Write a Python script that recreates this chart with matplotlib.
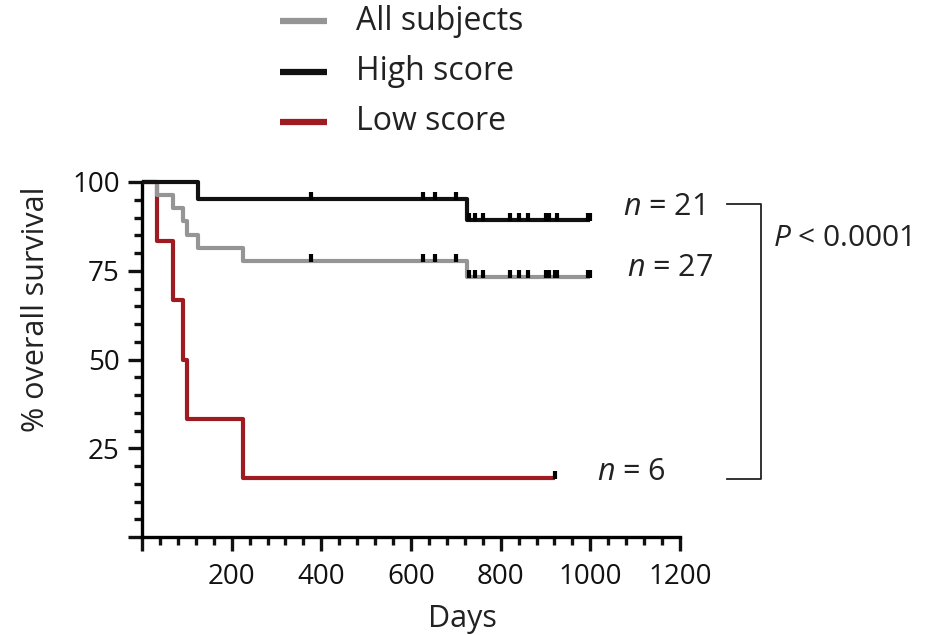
import matplotlib
matplotlib.use("Agg")
import matplotlib.pyplot as plt
import matplotlib.transforms as mtransforms
from matplotlib.ticker import MultipleLocator

plt.rcParams['font.family'] = ['Open Sans', 'DejaVu Sans']
plt.rcParams['mathtext.fontset'] = 'custom'
plt.rcParams['mathtext.rm'] = 'Open Sans'
plt.rcParams['mathtext.it'] = 'Open Sans:italic'

# step curves (day of drop, survival % after drop)
all_days = [0, 33, 70, 92, 100, 125, 225, 725, 1000]
all_surv = [100, 96.3, 92.6, 88.9, 85.2, 81.5, 77.8, 73.2, 73.2]
high_days = [0, 125, 725, 1000]
high_surv = [100, 95.2, 89.3, 89.3]
low_days = [0, 33, 70, 92, 100, 225, 922]
low_surv = [100, 83.3, 66.7, 50.0, 33.3, 16.7, 16.7]

# censored subjects (days)
high_cens = [377, 627, 654, 701, 730, 742, 761, 821, 840, 862, 900, 908, 926, 995, 1000]
all_cens = high_cens + [922]
low_cens = [922]

labels = ['All subjects', 'High score', 'Low score']
colors = ['#959595', '#111111', '#9e1b22']
n_labels = ['$n$ = 27', '$n$ = 21', '$n$ = 6']


def level_at(days, surv, t):
    v = surv[0]
    for d, s in zip(days, surv):
        if d <= t:
            v = s
    return v


W, H = 938, 635
fig = plt.figure(figsize=(W / 100, H / 100), dpi=100)
ax = fig.add_axes([142 / W, 98 / H, 538 / W, 355 / H])

up = mtransforms.offset_copy(ax.transData, fig=fig, x=0, y=3, units='dots')

curves = [(all_days, all_surv, all_cens), (high_days, high_surv, high_cens),
          (low_days, low_surv, low_cens)]
for (d, s, c), col, z in zip(curves, colors, [3, 4, 2]):
    ax.step(d, s, where='post', color=col, lw=3.0, clip_on=False, zorder=z,
            solid_capstyle='butt')
    ys = [level_at(d, s, t) for t in c]
    ax.plot(c, ys, ls='none', marker='|', ms=6, mew=3, color='black',
            transform=up, clip_on=False, zorder=5)

ax.set_xlim(0, 1200)
ax.set_ylim(0, 100)
ax.xaxis.set_minor_locator(MultipleLocator(40))
ax.yaxis.set_minor_locator(MultipleLocator(5))
ax.set_xticks([0, 200, 400, 600, 800, 1000, 1200])
ax.set_xticklabels(['', '200', '400', '600', '800', '1000', '1200'])
ax.set_yticks([0, 25, 50, 75, 100])
ax.set_yticklabels(['', '25', '50', '75', '100'])
for sp in ['top', 'right']:
    ax.spines[sp].set_visible(False)
for sp in ['left', 'bottom']:
    ax.spines[sp].set_linewidth(2.4)
ax.tick_params(which='major', length=10, width=2.4, labelsize=20,
               colors='#111111')
ax.tick_params(axis='x', which='major', pad=9)
ax.tick_params(axis='y', which='major', pad=6)
ax.tick_params(which='minor', length=5.5, width=2.4, colors='#111111')
ax.set_xlabel('Days', fontsize=22, labelpad=2, color='#222222')
ax.xaxis.set_label_coords(0.595, -0.19)
ax.set_ylabel('% overall survival', fontsize=22, color='#222222')
ax.yaxis.set_label_coords(-0.17, 0.64)

# legend drawn by hand
for i, (lab, col) in enumerate(zip(labels, colors)):
    y = 1 - (21 + 50.5 * i) / H
    fig.add_artist(plt.Line2D([280 / W, 327 / W], [y, y], color=col, lw=4.5,
                              solid_capstyle='butt'))
    fig.text(356 / W, y, lab, fontsize=23, va='center', ha='left',
             color='#222222')

# n labels
fig.text(623 / W, 1 - 207 / H, n_labels[1], fontsize=22, va='center', color='#222222')
fig.text(627 / W, 1 - 268 / H, n_labels[0], fontsize=22, va='center', color='#222222')
fig.text(597 / W, 1 - 472 / H, n_labels[2], fontsize=22, va='center', color='#222222')

# bracket with p-value
bx = [727 / W, 761 / W, 761 / W, 727 / W]
by = [1 - 204 / H, 1 - 204 / H, 1 - 479 / H, 1 - 479 / H]
fig.add_artist(plt.Line2D(bx, by, color='#222222', lw=1.3))
fig.text(773 / W, 1 - 238 / H, '$P$ < 0.0001', fontsize=21.5, va='center',
         color='#222222')

fig.savefig('out.png', dpi=100)
